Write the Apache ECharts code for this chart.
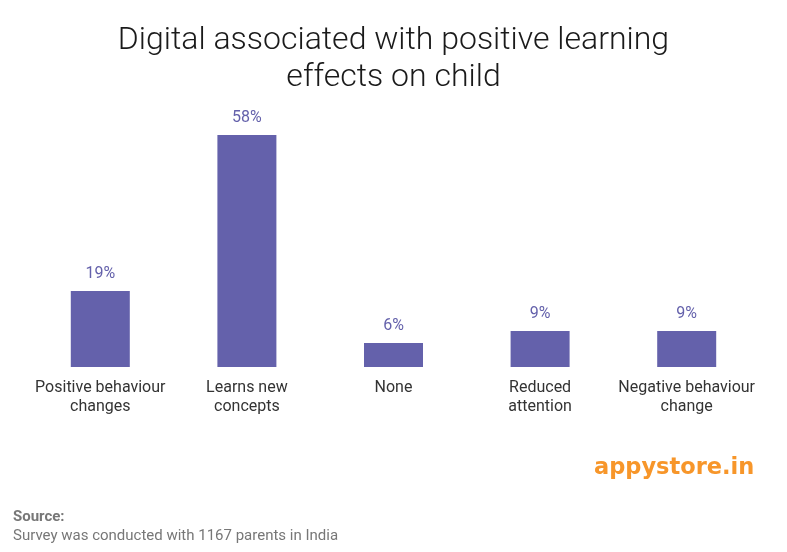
<!DOCTYPE html>
<html><head><meta charset="utf-8">
<script src="https://cdn.jsdelivr.net/npm/echarts@6/dist/echarts.min.js"></script>
<style>html,body{margin:0;padding:0;background:#fff}#c{width:787px;height:552px}</style>
</head><body><div id="c"></div>
<script>
const categories = ['Positive behaviour\nchanges', 'Learns new\nconcepts', 'None', 'Reduced\nattention', 'Negative behaviour\nchange'];
const values = [19, 58, 6, 9, 9];
const titleText = 'Digital associated with positive learning\neffects on child';
const sourceLabel = 'Source:';
const sourceText = 'Survey was conducted with 1167 parents in India';
const logoText = 'appystore.in';

const chart = echarts.init(document.getElementById('c'));
chart.setOption({
  backgroundColor: '#fff',
  animation: false,
  title: {
    text: titleText, left: 'center', top: 17,
    textStyle: { fontFamily: 'Roboto', fontWeight: 300, fontSize: 32, lineHeight: 37, color: '#1a1a1a' }
  },
  grid: { left: 27, right: 27, top: 127, bottom: 185 },
  xAxis: {
    type: 'category', data: categories,
    axisLine: { show: false }, axisTick: { show: false },
    axisLabel: { interval: 0, margin: 11, fontFamily: 'Roboto', fontSize: 16, lineHeight: 19, color: '#333' }
  },
  yAxis: { type: 'value', min: 0, max: 60, show: false, splitLine: { show: false } },
  series: [{
    type: 'bar', data: values, barWidth: 59,
    itemStyle: { color: '#6461ab' },
    label: { show: true, position: 'top', distance: 9, formatter: '{c}%', fontFamily: 'Roboto', fontSize: 16, color: '#6461ab' }
  }],
  graphic: [
    { type: 'text', left: 13, top: 510, style: { text: sourceLabel, fontFamily: 'Roboto', fontWeight: 'bold', fontSize: 15, fill: '#777' } },
    { type: 'text', left: 13, top: 529, style: { text: sourceText, fontFamily: 'Roboto', fontSize: 15, fill: '#777' } },
    { type: 'text', left: 594, top: 457, style: { text: logoText, fontFamily: 'DejaVu Sans', fontWeight: 'bold', fontSize: 22.5, fill: '#f7962a' } }
  ]
});
</script></body></html>
